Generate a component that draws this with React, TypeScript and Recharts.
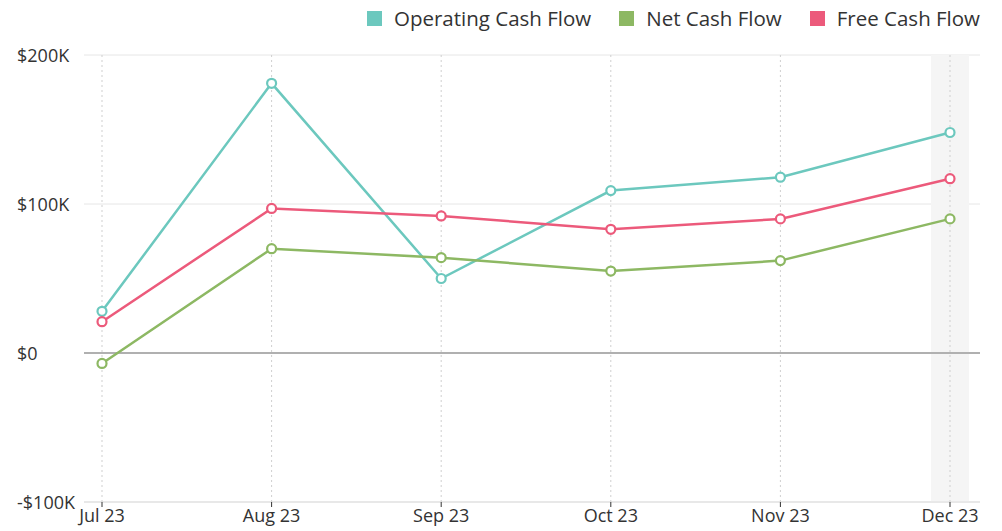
import React from "react";
import {
  LineChart,
  Line,
  XAxis,
  YAxis,
  CartesianGrid,
  ReferenceLine,
  ReferenceArea,
} from "recharts";

const months = ["Jul 23", "Aug 23", "Sep 23", "Oct 23", "Nov 23", "Dec 23"];
const operatingCashFlow = [28000, 181000, 50000, 109000, 118000, 148000];
const netCashFlow = [-7000, 70000, 64000, 55000, 62000, 90000];
const freeCashFlow = [21000, 97000, 92000, 83000, 90000, 117000];
const yTicks = [-100000, 0, 100000, 200000];

const series = [
  { key: "operating", name: "Operating Cash Flow", color: "#6CC8BE", values: operatingCashFlow },
  { key: "net", name: "Net Cash Flow", color: "#8DB863", values: netCashFlow },
  { key: "free", name: "Free Cash Flow", color: "#EC5A7B", values: freeCashFlow },
];

const data = months.map((m, i) => ({
  month: m,
  operating: operatingCashFlow[i],
  net: netCashFlow[i],
  free: freeCashFlow[i],
}));

const FONT = "'Open Sans', sans-serif";
const TEXT = "#333";

const fmt = (v: number) => {
  if (v === 0) return "$0";
  const s = v < 0 ? "-" : "";
  return `${s}$${Math.abs(v) / 1000}K`;
};

const YTick = (props: any) => {
  const { y, payload } = props;
  return (
    <text x={17} y={y} textAnchor="start" dominantBaseline="central" fill={TEXT} fontSize={18} fontFamily={FONT}>
      {fmt(payload.value)}
    </text>
  );
};

const HighlightShape = (props: any) => {
  const { x, y, height } = props;
  return <rect x={x - 19} y={y} width={38} height={height} fill="#f5f5f5" />;
};

export default function App() {
  return (
    <div style={{ position: "absolute", left: 0, top: 0, width: 1002, height: 531, background: "#fff" }}>
      <div
        style={{
          position: "absolute",
          top: 4,
          right: 22,
          display: "flex",
          alignItems: "center",
          fontFamily: FONT,
          fontSize: 20.5,
          lineHeight: "28px",
          color: TEXT,
          whiteSpace: "nowrap",
        }}
      >
        {series.map((s, i) => (
          <div key={s.key} style={{ display: "flex", alignItems: "center", marginLeft: i === 0 ? 0 : 28 }}>
            <span style={{ display: "inline-block", width: 15, height: 15, background: s.color, marginRight: 12 }} />
            <span>{s.name}</span>
          </div>
        ))}
      </div>
      <LineChart width={1002} height={531} data={data} margin={{ top: 55, right: 22, bottom: 0, left: 0 }}>
        <ReferenceArea x1="Dec 23" x2="Dec 23" y1={-100000} y2={200000} shape={HighlightShape} />
        <CartesianGrid horizontal={true} vertical={false} stroke="#e6e6e6" />
        {months.map((m) => (
          <ReferenceLine key={m} x={m} stroke="#cfcfcf" strokeDasharray="2 3" />
        ))}
        <XAxis
          dataKey="month"
          padding={{ left: 18, right: 30 }}
          height={29}
          axisLine={{ stroke: "#dddddd" }}
          tickLine={{ stroke: "#333" }}
          tickSize={5}
          tick={{ fill: TEXT, fontSize: 18, fontFamily: FONT }}
          interval={0}
        />
        <YAxis
          width={84}
          domain={[-100000, 200000]}
          ticks={yTicks}
          axisLine={false}
          tickLine={false}
          tick={<YTick />}
        />
        <ReferenceLine y={0} stroke="#9a9a9a" strokeWidth={1.5} />
        {series.map((s) => (
          <Line
            key={s.key}
            type="linear"
            dataKey={s.key}
            name={s.name}
            stroke={s.color}
            strokeWidth={2.5}
            dot={{ r: 4.5, fill: "#fff", stroke: s.color, strokeWidth: 2.2 }}
            activeDot={false}
            isAnimationActive={false}
          />
        ))}
      </LineChart>
    </div>
  );
}
